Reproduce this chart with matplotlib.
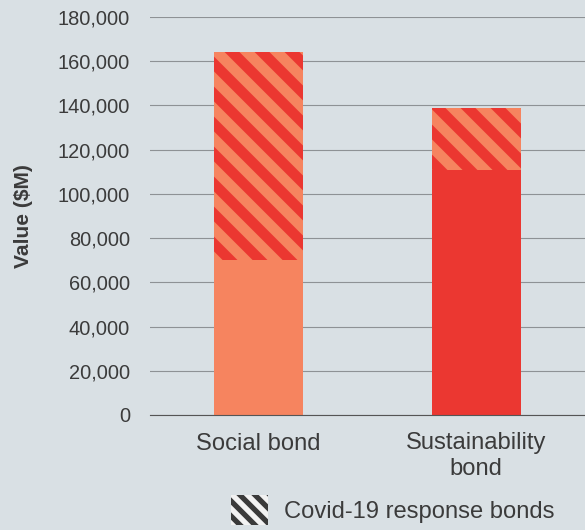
import matplotlib
matplotlib.use("Agg")
import matplotlib.pyplot as plt
from matplotlib.patches import Patch
import numpy as np

categories = ["Social bond", "Sustainability\nbond"]
base_values = [70000, 111000]
covid_values = [94000, 28000]
covid_label = "Covid-19 response bonds"
yticks = [0, 20000, 40000, 60000, 80000, 100000, 120000, 140000, 160000, 180000]

bg = "#d9e0e4"
orange = "#f6845f"
red = "#eb3731"
text_col = "#3b3b3b"

DPI = 180
plt.rcParams['font.family'] = ['Liberation Sans', 'DejaVu Sans']
plt.rcParams['hatch.linewidth'] = 4.2

fig = plt.figure(figsize=(585 / DPI, 530 / DPI), dpi=DPI, facecolor=bg)
ax = fig.add_axes([150 / 585, 1 - 415 / 530, 435 / 585, 398 / 530], facecolor=bg)

x = np.arange(len(categories))
width = 0.41
ax.bar(x, base_values, width, color=[orange, red], linewidth=0, zorder=3)
covid_bars = ax.bar(x, covid_values, width, bottom=base_values, facecolor=orange,
                    edgecolor=red, hatch="\\\\", linewidth=0, zorder=3)
for b in covid_bars:
    if hasattr(b, "set_hatch_linewidth"):
        b.set_hatch_linewidth(4.2)

ax.set_xlim(-0.5, 1.5)
ax.set_ylim(0, 180000)
ax.set_yticks(yticks)
ax.set_yticklabels([f"{v:,}" for v in yticks])
ax.set_xticks(x)
ax.set_xticklabels(categories, fontsize=9.5, color=text_col)
ax.tick_params(axis='y', length=0, pad=8, labelsize=8, labelcolor=text_col)
ax.tick_params(axis='x', length=0, pad=7)
ax.grid(axis='y', color="#8e9295", linewidth=0.45, zorder=0)
for s in ["left", "right", "top"]:
    ax.spines[s].set_visible(False)
ax.spines["bottom"].set_color("#555555")
ax.spines["bottom"].set_linewidth(0.45)
ax.spines["bottom"].set_zorder(4)
ax.set_ylabel("Value ($M)", fontsize=8.4, color=text_col, fontweight="bold",
              va="center")
ax.yaxis.set_label_coords(-126 / 435, 0.5)

plt.rcParams['hatch.linewidth'] = 2.1
handle = Patch(facecolor="#f2f2f2", edgecolor="#3a3a3a", hatch="\\\\\\\\", linewidth=0)
if hasattr(handle, "set_hatch_linewidth"):
    handle.set_hatch_linewidth(2.1)
fig.legend([handle], [covid_label], loc="center left",
           bbox_to_anchor=(231 / 585, 1 - 510 / 530), frameon=False,
           fontsize=9.5, labelcolor=text_col, handlelength=1.55, handleheight=1.55,
           handletextpad=0.7, borderpad=0, borderaxespad=0)

fig.savefig("out.png", dpi=DPI, facecolor=bg)
